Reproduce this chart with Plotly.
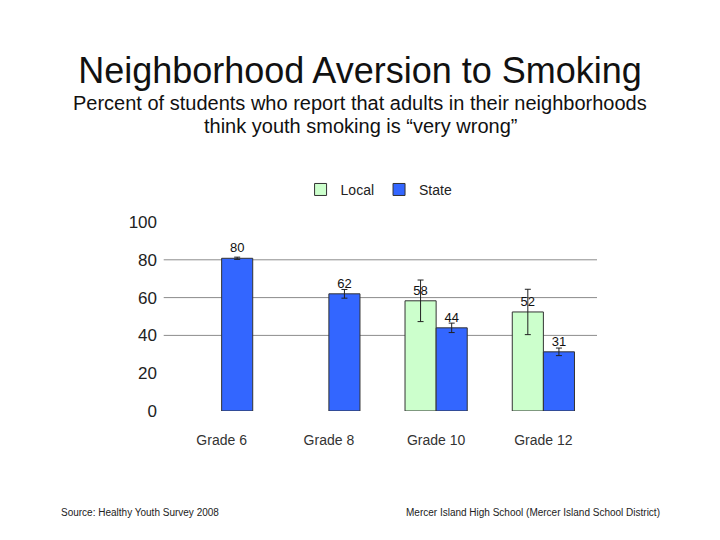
import plotly.graph_objects as go

grades = ["Grade 6", "Grade 8", "Grade 10", "Grade 12"]
local_pct = [None, None, 58.3, 52.4]
local_err = [0, 0, 11, 12]
local_labels = ["", "", "58", "52"]
state_pct = [80.8, 62, 44, 31.3]
state_err = [0.6, 2.3, 2.5, 2]
state_labels = ["80", "62", "44", "31"]
y_ticks = [0, 20, 40, 60, 80, 100]
grid_lines = [40, 60, 80]

font_main = "Liberation Sans, Arial, sans-serif"

# the page body adds an 8px margin, so the figure is 8px smaller
W, H = 712, 532

fig = go.Figure()
fig.add_trace(
    go.Bar(
        x=grades,
        y=local_pct,
        name="Local",
        marker=dict(color="#CCFFCC", line=dict(color="#333333", width=1)),
        error_y=dict(type="data", array=local_err, color="#222222",
                     thickness=1, width=3),
        text=local_labels,
        textposition="outside",
        textfont=dict(size=13, color="#111111"),
        cliponaxis=False,
    )
)
fig.add_trace(
    go.Bar(
        x=grades,
        y=state_pct,
        name="State",
        marker=dict(color="#3366FF", line=dict(color="#333333", width=1)),
        error_y=dict(type="data", array=state_err, color="#222222",
                     thickness=1, width=3),
        text=state_labels,
        textposition="outside",
        textfont=dict(size=13, color="#111111"),
        cliponaxis=False,
    )
)

# gridlines only at 40/60/80, as in the original
for g in grid_lines:
    fig.add_shape(
        type="line", xref="paper", yref="y",
        x0=-0.01, x1=1, y0=g, y1=g,
        line=dict(color="#8c8c8c", width=1),
        layer="below",
    )

subtitle_lines = [
    ("Percent of students who report that adults in their neighborhoods", 1.628),
    ("think youth smoking is \u201cvery wrong\u201d", 1.506),
]
notes = []
for txt, ypos in subtitle_lines:
    notes.append(dict(
        text=txt,
        xref="paper", yref="paper",
        x=(352 - 160) / 429, y=ypos,
        xanchor="center", yanchor="middle",
        showarrow=False,
        font=dict(size=20, color="#111111"),
    ))
notes.append(dict(
    text="Source: Healthy Youth Survey 2008",
    xref="paper", yref="paper",
    x=-0.254, y=-0.539,
    xanchor="left", yanchor="middle",
    showarrow=False,
    font=dict(size=10, color="#222222"),
))
notes.append(dict(
    text="Mercer Island High School (Mercer Island School District)",
    xref="paper", yref="paper",
    x=1.152, y=-0.539,
    xanchor="right", yanchor="middle",
    showarrow=False,
    font=dict(size=10, color="#222222"),
))

fig.update_layout(
    width=W,
    height=H,
    autosize=False,
    paper_bgcolor="white",
    plot_bgcolor="white",
    font=dict(family=font_main, color="#222222"),
    margin=dict(l=160, r=123, t=214, b=129),
    barmode="group",
    bargap=0.42,
    bargroupgap=0,
    title=dict(
        text="Neighborhood Aversion to Smoking",
        x=352 / W, xref="container", xanchor="center",
        y=1 - 62 / H, yref="container", yanchor="middle",
        font=dict(size=36, color="#111111", family=font_main),
    ),
    legend=dict(
        orientation="h",
        x=0.492, xanchor="center",
        y=1.17, yanchor="middle",
        font=dict(size=14, color="#222222"),
        itemwidth=30,
    ),
    xaxis=dict(
        showgrid=False,
        showline=False,
        zeroline=False,
        tickfont=dict(size=14, color="#333333"),
        ticklabelstandoff=19,
    ),
    yaxis=dict(
        range=[0, 100],
        tickvals=y_ticks,
        showgrid=False,
        zeroline=False,
        showline=False,
        tickfont=dict(size=17, color="#222222"),
        ticklabelstandoff=10,
    ),
    annotations=notes,
)

fig.write_html("out.html")
